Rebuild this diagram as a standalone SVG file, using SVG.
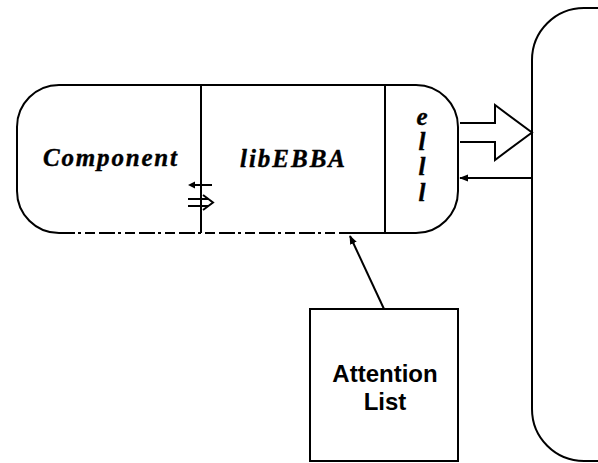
<svg xmlns="http://www.w3.org/2000/svg" width="598" height="463" viewBox="0 0 598 463">
  <style>
    .ln { fill: none; stroke: #000; stroke-width: 2; stroke-linecap: butt; }
    .box { fill: #fff; stroke: #000; stroke-width: 2; }
    .serif { font-family: "Liberation Serif", "DejaVu Serif", serif; font-weight: bold; font-style: italic; font-size: 25px; fill: #000; stroke: #000; stroke-width: 0.4; }
    .sans { font-family: "Liberation Sans", "DejaVu Sans", sans-serif; font-weight: bold; font-size: 24px; fill: #000; text-anchor: middle; }
  </style>
  <defs>
    <marker id="head" viewBox="0 0 10 10" refX="9" refY="5" markerWidth="9" markerHeight="9" markerUnits="userSpaceOnUse" orient="auto">
      <path d="M0,1 L10,5 L0,9 Z" fill="#000"/>
    </marker>
  </defs>

  <rect width="598" height="463" fill="#fff"/>

  <!-- right-hand system block, running off the edge -->
  <g id="system">
    <rect class="box" x="532" y="8" width="120" height="453" rx="52" ry="52"/>
  </g>

  <!-- component capsule: Component | libEBBA | ell -->
  <g id="component">
    <path class="ln" d="M345,233 H416 A42,42 0 0 0 458,191 V127 A42,42 0 0 0 416,85 H59 A42,42 0 0 0 17,127 V191 A42,42 0 0 0 59,233"/>
    <path class="ln" d="M59,233 H345" stroke-dasharray="16 3 3 4 10 4"/>
    <line class="ln" x1="201" y1="85" x2="201" y2="233"/>
    <line class="ln" x1="385" y1="85" x2="385" y2="233"/>
    <text class="serif" x="43" y="166" textLength="134" lengthAdjust="spacing">Component</text>
  </g>

  <g id="libebba">
    <text class="serif" x="240" y="167" textLength="105" lengthAdjust="spacing">libEBBA</text>
    <!-- small interface arrows on the divider -->
    <line class="ln" x1="190" y1="185" x2="212" y2="185"/>
    <path d="M188,185 L195,181.5 L195,188.5 Z" fill="#000"/>
    <line class="ln" x1="188" y1="199" x2="208" y2="199"/>
    <line class="ln" x1="188" y1="206" x2="208" y2="206"/>
    <path class="ln" d="M203,195 L213,202.5 L203,210"/>
  </g>

  <g id="ell">
    <text class="serif" x="422" y="125" text-anchor="middle">e</text>
    <text class="serif" x="422" y="150" text-anchor="middle">l</text>
    <text class="serif" x="422" y="175" text-anchor="middle">l</text>
    <text class="serif" x="422" y="201" text-anchor="middle">l</text>
  </g>

  <g id="attention-list">
    <rect class="box" x="310" y="309" width="148" height="152"/>
    <text class="sans" x="385" y="382">Attention</text>
    <text class="sans" x="385" y="410">List</text>
  </g>

  <!-- connectors -->
  <g id="connectors">
    <path class="box" d="M460,123 H495 V105 L532,132.5 L495,160 V142 H460"/>
    <line class="ln" x1="532" y1="178" x2="460" y2="178" marker-end="url(#head)"/>
    <line class="ln" x1="384" y1="309" x2="350" y2="236" marker-end="url(#head)"/>
  </g>
</svg>
